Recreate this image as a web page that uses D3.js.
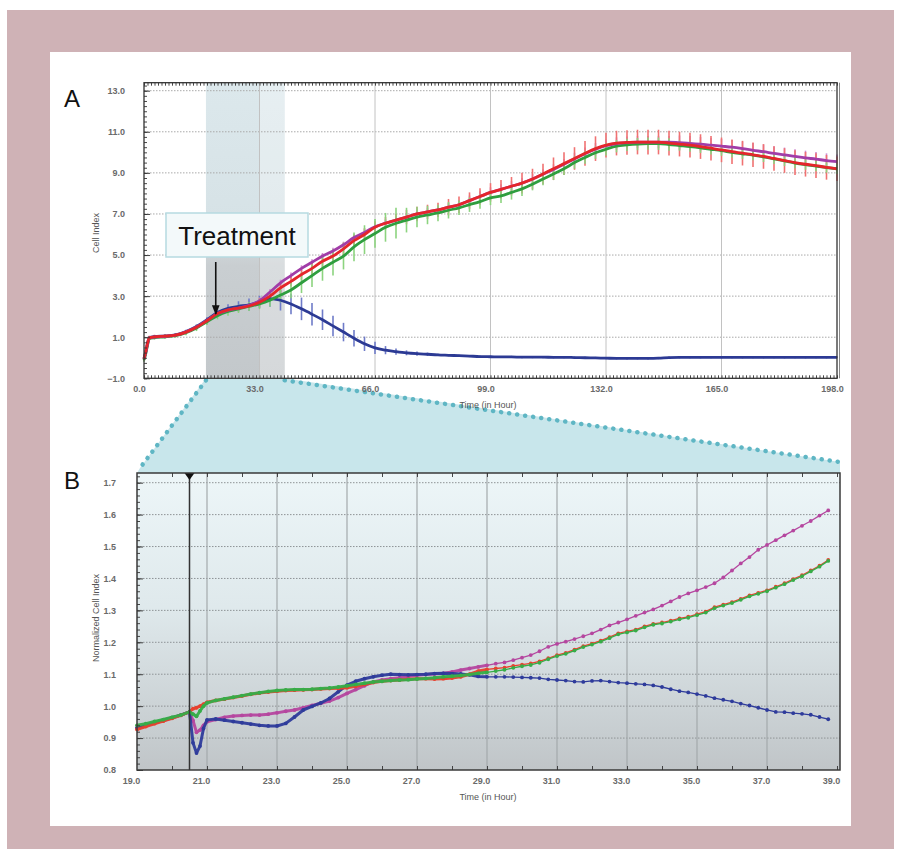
<!DOCTYPE html>
<html><head><meta charset="utf-8">
<script src="https://cdn.jsdelivr.net/npm/d3@7"></script>
<style>html,body{margin:0;padding:0;background:#fff;} svg{display:block;}</style>
</head><body>
<svg id="c" width="898" height="857"></svg>
<script>
// ---------------- DATA: Panel A (Cell Index vs time, hours) ----------------
const timesA = [0,0.5,1,1.5,3,6,9,12,15,18,21,24,27,30,33,36,39,42,45,48,51,54,57,60,63,66,69,72,75,78,81,84,87,90,93,96,99,102,105,108,111,114,117,120,123,126,129,132,135,138,141,144,147,150,153,156,159,162,165,168,171,174,177,180,183,186,189,192,195,198];
const redA = [-0.05,0.3,0.7,0.97, 1.02,1.05,1.1,1.25,1.48,1.8,2.15,2.33,2.42,2.52, 2.7,3.0,3.4,3.72,4.05,4.35,4.7,4.95,5.3,5.7, 6.0,6.35,6.55,6.7,6.85,7.0,7.1,7.2,7.33,7.45, 7.65,7.85,8.05,8.2,8.35,8.5,8.7,8.95,9.2,9.45, 9.7,9.95,10.18,10.35,10.45,10.48,10.5,10.5,10.5,10.45, 10.4,10.35,10.28,10.2,10.12,10.03,9.96,9.88,9.8,9.7, 9.6,9.5,9.42,9.35,9.27,9.2];
const greenA = [-0.1,0.2,0.6,0.93, 0.98,1.02,1.08,1.22,1.45,1.75,2.05,2.25,2.38,2.5, 2.62,2.8,3.05,3.3,3.65,4.0,4.35,4.65,4.95,5.4, 5.75,6.05,6.35,6.55,6.7,6.85,6.95,7.05,7.18,7.3, 7.45,7.6,7.78,7.88,8.05,8.22,8.45,8.7,8.95,9.2, 9.5,9.75,9.98,10.15,10.3,10.36,10.4,10.42,10.42,10.38, 10.33,10.28,10.22,10.15,10.08,10.0,9.93,9.86,9.78,9.68, 9.58,9.48,9.4,9.33,9.26,9.2];
const magentaA = [-0.05,0.25,0.65,0.95, 1.0,1.04,1.1,1.26,1.5,1.82,2.15,2.32,2.42,2.55, 2.78,3.2,3.65,4.0,4.35,4.65,4.95,5.2,5.5,5.85, 6.1,6.38,6.55,6.7,6.85,7.0,7.1,7.2,7.33,7.45, 7.65,7.85,8.05,8.2,8.35,8.5,8.7,8.93,9.17,9.42, 9.68,9.93,10.15,10.32,10.43,10.47,10.5,10.5,10.5,10.5, 10.47,10.44,10.4,10.35,10.3,10.25,10.18,10.1,10.03,9.95, 9.88,9.8,9.73,9.67,9.6,9.55];
const blueA = [-0.05,0.3,0.7,0.98, 1.03,1.06,1.12,1.28,1.52,1.85,2.2,2.4,2.5,2.58, 2.72,2.88,2.8,2.62,2.38,2.12,1.85,1.55,1.25,0.95, 0.68,0.48,0.37,0.3,0.24,0.2,0.17,0.14,0.12,0.1, 0.08,0.06,0.05,0.04,0.04,0.03,0.03,0.03,0.02,0.02, 0.01,0.0,-0.01,-0.02,-0.03,-0.03,-0.03,-0.03,-0.02,0.01, 0.02,0.02,0.02,0.02,0.02,0.02,0.02,0.02,0.02,0.02, 0.02,0.02,0.02,0.02,0.02,0.02];
// error bars (±)
const redErrA = [0.1,0.1,0.1,0.1, 0.1,0.1,0.1,0.1,0.12,0.12,0.15,0.15,0.15,0.15, 0.2,0.2,0.25,0.25,0.25,0.3,0.3,0.3,0.3,0.3, 0.3,0.3,0.3,0.3,0.35,0.35,0.35,0.35,0.4,0.4, 0.4,0.4,0.45,0.45,0.45,0.5,0.5,0.5,0.55,0.55, 0.55,0.6,0.6,0.6,0.6,0.6,0.6,0.6,0.6,0.6, 0.6,0.6,0.6,0.6,0.6,0.6,0.6,0.6,0.6,0.6, 0.6,0.6,0.6,0.6,0.6,0.6];
const greenErrA = [0.1,0.1,0.1,0.1, 0.1,0.1,0.1,0.12,0.15,0.15,0.18,0.2,0.2,0.22, 0.25,0.3,0.35,0.4,0.5,0.55,0.6,0.65,0.65,0.7, 0.7,0.7,0.7,0.75,0.6,0.5,0.45,0.4,0.4,0.35, 0.35,0.35,0.35,0.35,0.35,0.35,0.3,0.3,0.3,0.3, 0.3,0.3,0.3,0.3,0.3,0.3,0.3,0.3,0.3,0.3, 0.25,0.25,0.25,0.25,0.25,0.25,0.25,0.25,0.25,0.25, 0.25,0.25,0.25,0.25,0.25,0.25];
const magentaErrA = [0.05,0.05,0.05,0.05, 0.05,0.05,0.05,0.05,0.05,0.05,0.05,0.05,0.05,0.05, 0.15,0.15,0.15,0.15,0.15,0.15,0.15,0.15,0.15,0.15, 0.2,0.2,0.2,0.2,0.2,0.2,0.2,0.2,0.2,0.2, 0.25,0.25,0.25,0.25,0.25,0.25,0.25,0.25,0.25,0.25, 0.3,0.3,0.3,0.3,0.3,0.3,0.3,0.3,0.3,0.3, 0.35,0.35,0.35,0.35,0.35,0.35,0.35,0.35,0.35,0.35, 0.35,0.35,0.35,0.35,0.35,0.35];
const blueErrA = [0.05,0.05,0.05,0.05, 0.05,0.05,0.05,0.08,0.1,0.12,0.15,0.2,0.25,0.3, 0.3,0.4,0.5,0.5,0.55,0.55,0.5,0.5,0.45,0.4, 0.35,0.3,0.2,0.15,0.12,0.1,0.08,0.06,0.05,0.05, 0.05,0.05,0.05,0.05,0.05,0.05,0.05,0.05,0.05,0.05, 0.05,0.05,0.05,0.05,0.05,0.05,0.05,0.05,0.05,0.05, 0.05,0.05,0.05,0.05,0.05,0.05,0.05,0.05,0.05,0.05, 0.05,0.05,0.05,0.05,0.05,0.05];
const xTicksA = [0,33,66,99,132,165,198];
const yTicksA = [-1,1,3,5,7,9,11,13];
const treatmentTime = 20.5;
const zoomWindow = [17.7, 40.2];

// ---------------- DATA: Panel B (Normalized Cell Index) ----------------
const timesB = [19,19.25,19.5,19.75,20,20.25,20.5,20.6,20.7,20.8,20.9,21,21.25,21.5,21.75,22,22.25,22.5,22.75,23,23.25,23.5,23.75,24,24.25,24.5,24.75,25,25.25,25.5,25.75,26,26.25,26.5,26.75,27,27.25,27.5,27.75,28,28.25,28.5,28.75,29,29.25,29.5,29.75,30,30.25,30.5,30.75,31,31.25,31.5,31.75,32,32.25,32.5,32.75,33,33.25,33.5,33.75,34,34.25,34.5,34.75,35,35.25,35.5,35.75,36,36.25,36.5,36.75,37,37.25,37.5,37.75,38,38.25,38.5,38.75];
const redB = [0.927,0.936,0.945,0.953,0.962,0.971,0.982, 0.992,0.995,1.0,1.006,1.012, 1.018,1.022,1.027,1.032,1.037,1.041,1.044,1.047,1.049,1.05, 1.051,1.052,1.054,1.055,1.056,1.058,1.062,1.068,1.074,1.078, 1.08,1.082,1.084,1.086,1.086,1.085,1.086,1.088,1.092,1.1, 1.11,1.115,1.118,1.121,1.126,1.13,1.134,1.14, 1.15,1.16,1.167,1.177,1.188,1.196,1.205,1.216,1.228,1.234, 1.24,1.25,1.258,1.262,1.268,1.275,1.28,1.288,1.296,1.31, 1.318,1.326,1.336,1.347,1.355,1.363,1.374,1.385,1.398,1.41, 1.425,1.44,1.458];
const greenB = [0.940,0.945,0.952,0.958,0.965,0.972,0.982, 0.975,0.968,0.985,1.0,1.01, 1.018,1.023,1.028,1.033,1.038,1.042,1.046,1.049,1.051,1.052, 1.052,1.053,1.055,1.057,1.06,1.064,1.068,1.072,1.076,1.078, 1.08,1.082,1.083,1.085,1.087,1.089,1.092,1.094,1.096,1.099, 1.103,1.106,1.11,1.114,1.12,1.125,1.129,1.136, 1.147,1.157,1.164,1.174,1.185,1.193,1.202,1.213,1.225,1.231, 1.237,1.247,1.255,1.259,1.265,1.272,1.277,1.285,1.293,1.307, 1.315,1.323,1.333,1.344,1.352,1.36,1.371,1.382,1.395,1.407, 1.422,1.437,1.455];
const magentaB = [0.930,0.938,0.947,0.955,0.963,0.972,0.982, 0.955,0.918,0.925,0.94,0.951, 0.958,0.965,0.969,0.971,0.972,0.972,0.975,0.979,0.984,0.988, 0.995,1.002,1.009,1.016,1.027,1.04,1.052,1.064,1.076,1.082, 1.086,1.089,1.093,1.097,1.099,1.101,1.103,1.107,1.113,1.118, 1.123,1.128,1.133,1.137,1.144,1.152,1.16,1.172, 1.186,1.195,1.202,1.21,1.219,1.228,1.24,1.253,1.262,1.272, 1.283,1.293,1.303,1.315,1.328,1.342,1.353,1.363,1.373,1.385, 1.403,1.425,1.447,1.467,1.49,1.505,1.52,1.535,1.55,1.565, 1.58,1.597,1.613];
const blueB = [0.932,0.940,0.948,0.956,0.964,0.972,0.982, 0.885,0.853,0.875,0.93,0.957, 0.96,0.956,0.952,0.948,0.944,0.94,0.938,0.938,0.946,0.966, 0.988,0.999,1.01,1.024,1.045,1.066,1.078,1.086,1.092,1.097, 1.1,1.099,1.098,1.099,1.1,1.102,1.103,1.102,1.101,1.098, 1.093,1.092,1.092,1.092,1.091,1.09,1.089,1.088, 1.084,1.082,1.08,1.077,1.076,1.079,1.08,1.077,1.074,1.072, 1.07,1.068,1.065,1.06,1.053,1.047,1.043,1.038,1.032,1.025, 1.02,1.015,1.008,1.002,0.995,0.988,0.982,0.981,0.978,0.976, 0.973,0.966,0.959];
const xTicksB = [19,21,23,25,27,29,31,33,35,37,39];
const yTicksB = [0.8,0.9,1.0,1.1,1.2,1.3,1.4,1.5,1.6,1.7];

// ---------------- DRAWING ----------------
const FONT = "'Liberation Sans', Arial, Helvetica, sans-serif";
const svg = d3.select('#c');
const defs = svg.append('defs');

svg.append('rect').attr('x',7).attr('y',10).attr('width',887).attr('height',839).attr('fill','#cfb2b6');
svg.append('rect').attr('x',50).attr('y',52).attr('width',801).attr('height',774).attr('fill','#ffffff');

// scales
const xA = d3.scaleLinear().domain([0,198]).range([144,837]);
const yA = d3.scaleLinear().domain([-1,13]).range([378.3,90.7]);
const aL = 144, aR = 837, aT = 82.7, aB = 378.3;
const xB = d3.scaleLinear().domain([19,39]).range([137,837]);
const yB = d3.scaleLinear().domain([0.8,1.7]).range([770,482.7]);
const bL = 137, bR = 840, bT = 473, bB = 770;

// zoom trapezoid
const zx0 = xA(zoomWindow[0]), zx1 = xA(zoomWindow[1]);
svg.append('polygon')
  .attr('points', [[zx0,aB],[zx1,aB],[bR,462],[bR,bT],[bL,bT],[140,468]].map(p=>p.join(',')).join(' '))
  .attr('fill','#c8e6eb');
[[[zx0,aB+2],[140,468]],[[zx1,aB+2],[bR,462]]].forEach(seg=>{
  svg.append('line').attr('x1',seg[0][0]).attr('y1',seg[0][1]).attr('x2',seg[1][0]).attr('y2',seg[1][1])
    .attr('stroke','#5fb6c4').attr('stroke-width',4.5).attr('stroke-dasharray','0.1,8').attr('stroke-linecap','round');
});

// ===== Panel A =====
const gA = svg.append('g');
const bandGrad = defs.append('linearGradient').attr('id','bandG').attr('x1',0).attr('y1',0).attr('x2',0).attr('y2',1);
[['0%','#dce8ec'],['48%','#d6e2e6'],['62%','#c9ced1'],['100%','#c3c8cb']].forEach(s=>bandGrad.append('stop').attr('offset',s[0]).attr('stop-color',s[1]));
gA.append('rect').attr('x',zx0).attr('y',aT).attr('width',zx1-zx0).attr('height',aB-aT).attr('fill','url(#bandG)');
gA.append('rect').attr('x',xA(33)).attr('y',aT).attr('width',zx1-xA(33)).attr('height',aB-aT).attr('fill','#ffffff').attr('opacity',0.3);

// grid
gA.selectAll('.hg').data(yTicksA.filter(d=>d>-1)).enter().append('line')
  .attr('x1',aL).attr('x2',aR).attr('y1',d=>yA(d)).attr('y2',d=>yA(d))
  .attr('stroke','#a9a9a9').attr('stroke-width',1).attr('stroke-dasharray','1.5,1.5');
gA.selectAll('.vg').data(xTicksA.filter(d=>d>0&&d<198)).enter().append('line')
  .attr('y1',aT).attr('y2',aB).attr('x1',d=>xA(d)).attr('x2',d=>xA(d))
  .attr('stroke','#c2c2c2').attr('stroke-width',1);

// series A
const seriesA = [
  {values:blueA, err:blueErrA, color:'#2c3a94', errColor:'#6e7bc8'},
  {values:magentaA, err:magentaErrA, color:'#a13da8', errColor:'#d08bd0'},
  {values:redA, err:redErrA, color:'#e5262b', errColor:'#f07272'},
  {values:greenA, err:greenErrA, color:'#2f9e3f', errColor:'#8cd47f'}
];
seriesA.forEach(s=>{
  gA.append('g').selectAll('line').data(timesA.map((t,i)=>({t,v:s.values[i],e:s.err[i]}))).enter().append('line')
    .attr('x1',d=>xA(d.t)).attr('x2',d=>xA(d.t))
    .attr('y1',d=>yA(d.v-d.e)).attr('y2',d=>yA(d.v+d.e))
    .attr('stroke',s.errColor).attr('stroke-width',1.6);
});
const lineA = d3.line().x(d=>xA(d.t)).y(d=>yA(d.v)).curve(d3.curveMonotoneX);
['blue','green','magenta','red'].forEach(n=>{
  const s = {blue:seriesA[0],magenta:seriesA[1],red:seriesA[2],green:seriesA[3]}[n];
  gA.append('path').datum(timesA.map((t,i)=>({t,v:s.values[i]})))
    .attr('d',lineA).attr('fill','none').attr('stroke',s.color).attr('stroke-width',2.8).attr('stroke-linejoin','round');
});

// frame + ticks A
gA.append('rect').attr('x',aL).attr('y',aT).attr('width',aR-aL).attr('height',aB-aT).attr('fill','none').attr('stroke','#333').attr('stroke-width',1.3);
gA.append('line').attr('x1',aR+2.5).attr('x2',aR+2.5).attr('y1',aT).attr('y2',aB).attr('stroke','#888').attr('stroke-width',1);
const styleTicks = g => { g.select('.domain').remove(); g.selectAll('line').attr('stroke','#333').attr('stroke-width',0.9); };
gA.append('g').attr('transform',`translate(${aL},0)`).call(d3.axisRight(yA).tickValues(d3.range(-1,13.39,0.25)).tickSize(3).tickFormat('')).call(styleTicks);
gA.append('g').attr('transform',`translate(${aL},0)`).call(d3.axisRight(yA).tickValues(yTicksA).tickSize(6).tickFormat('')).call(styleTicks);
gA.append('g').attr('transform',`translate(0,${aB})`).call(d3.axisTop(xA).tickValues(d3.range(0,198.1,1)).tickSize(3).tickFormat('')).call(styleTicks);
gA.append('g').attr('transform',`translate(0,${aT})`).call(d3.axisBottom(xA).tickValues(d3.range(0,198.1,1)).tickSize(3).tickFormat('')).call(styleTicks);

// labels A
const labelStyle = g => { g.select('.domain').remove(); g.selectAll('line').remove();
  g.selectAll('text').attr('font-family',FONT).attr('font-size',9).attr('font-weight','bold').attr('fill','#6a6a6a'); };
gA.append('g').attr('transform',`translate(${aL},0)`).call(d3.axisLeft(yA).tickValues(yTicksA).tickSize(0).tickPadding(19).tickFormat(d3.format('.1f'))).call(labelStyle);
gA.append('g').attr('transform',`translate(0,${aB})`).call(d3.axisBottom(xA).tickValues(xTicksA).tickSize(0).tickPadding(7).tickFormat(d3.format('.1f'))).call(labelStyle)
  .selectAll('text').attr('dx',-5);
gA.append('text').attr('transform','translate(97,233) rotate(-90)').attr('text-anchor','middle').attr('dominant-baseline','middle')
  .attr('font-family',FONT).attr('font-size',9).attr('fill','#555').text('Cell Index');
gA.append('text').attr('x',488).attr('y',408).attr('text-anchor','middle')
  .attr('font-family',FONT).attr('font-size',9).attr('fill','#555').text('Time (in Hour)');
svg.append('text').attr('x',64).attr('y',107).attr('font-family',FONT).attr('font-size',24).attr('fill','#111').text('A');

// treatment annotation
gA.append('rect').attr('x',166).attr('y',213).attr('width',142).attr('height',44).attr('fill','#f3f9fa').attr('stroke','#b6dae1').attr('stroke-width',1.5);
gA.append('text').attr('x',237).attr('y',245).attr('text-anchor','middle').attr('font-family',FONT).attr('font-size',26).attr('fill','#111').text('Treatment');
defs.append('marker').attr('id','arr').attr('viewBox','0 0 10 10').attr('refX',9).attr('refY',5).attr('markerWidth',6).attr('markerHeight',6).attr('orient','auto')
  .append('path').attr('d','M0,1 L10,5 L0,9 Z').attr('fill','#111');
gA.append('line').attr('x1',xA(treatmentTime)).attr('x2',xA(treatmentTime)).attr('y1',262).attr('y2',314)
  .attr('stroke','#111').attr('stroke-width',1.6).attr('marker-end','url(#arr)');

// ===== Panel B =====
const gB = svg.append('g');
const bgGrad = defs.append('linearGradient').attr('id','bgB').attr('x1',0).attr('y1',0).attr('x2',0).attr('y2',1);
[['0%','#edf6f8'],['45%','#dfe9ec'],['100%','#c0c5c8']].forEach(s=>bgGrad.append('stop').attr('offset',s[0]).attr('stop-color',s[1]));
gB.append('rect').attr('x',bL).attr('y',bT).attr('width',bR-bL).attr('height',bB-bT).attr('fill','url(#bgB)');

gB.selectAll('.hg').data(yTicksB.filter(d=>d>0.85)).enter().append('line')
  .attr('x1',bL).attr('x2',bR).attr('y1',d=>yB(d)).attr('y2',d=>yB(d))
  .attr('stroke','#8e9396').attr('stroke-width',1).attr('stroke-dasharray','1.5,1.5');
gB.selectAll('.vg').data(xTicksB.filter(d=>d>19&&d<39)).enter().append('line')
  .attr('y1',bT).attr('y2',bB).attr('x1',d=>xB(d)).attr('x2',d=>xB(d))
  .attr('stroke','#a3a9ac').attr('stroke-width',1.2);

const seriesB = [
  {values:magentaB, color:'#b5469f'},
  {values:blueB, color:'#2e3b9b'},
  {values:redB, color:'#e8412e'},
  {values:greenB, color:'#36ad48'}
];
const lineB = d3.line().x(d=>xB(d.t)).y(d=>yB(d.v));
seriesB.forEach(s=>{
  const pts = timesB.map((t,i)=>({t,v:s.values[i]}));
  gB.append('path').datum(pts.filter(d=>d.t<=29)).attr('d',lineB).attr('fill','none').attr('stroke',s.color).attr('stroke-width',3).attr('stroke-linejoin','round').attr('opacity',0.95);
  gB.append('path').datum(pts.filter(d=>d.t>=29)).attr('d',lineB).attr('fill','none').attr('stroke',s.color).attr('stroke-width',1.3);
  gB.append('g').selectAll('circle').data(pts).enter().append('circle')
    .attr('cx',d=>xB(d.t)).attr('cy',d=>yB(d.v)).attr('r',1.9).attr('fill',s.color);
});

// treatment line B
gB.append('line').attr('x1',xB(treatmentTime)).attr('x2',xB(treatmentTime)).attr('y1',bT).attr('y2',bB).attr('stroke','#333').attr('stroke-width',1.5);
gB.append('path').attr('d',`M${xB(treatmentTime)-5},${bT} L${xB(treatmentTime)+5},${bT} L${xB(treatmentTime)},${bT+7} Z`).attr('fill','#111');

// frame + ticks B
gB.append('rect').attr('x',bL).attr('y',bT).attr('width',bR-bL).attr('height',bB-bT).attr('fill','none').attr('stroke','#3a3a3a').attr('stroke-width',1.5);
gB.append('g').attr('transform',`translate(${bL},0)`).call(d3.axisRight(yB).tickValues(d3.range(0.8,1.725,0.02)).tickSize(3).tickFormat('')).call(styleTicks);
gB.append('g').attr('transform',`translate(${bL},0)`).call(d3.axisRight(yB).tickValues(yTicksB).tickSize(6).tickFormat('')).call(styleTicks);
gB.append('g').attr('transform',`translate(0,${bB})`).call(d3.axisTop(xB).tickValues(d3.range(20,39.1,1)).tickSize(4).tickFormat('')).call(styleTicks);
gB.append('g').attr('transform',`translate(0,${bT})`).call(d3.axisBottom(xB).tickValues(d3.range(20,39.1,1)).tickSize(4).tickFormat('')).call(styleTicks);

gB.append('g').attr('transform',`translate(${bL},0)`).call(d3.axisLeft(yB).tickValues(yTicksB).tickSize(0).tickPadding(21).tickFormat(d3.format('.1f'))).call(labelStyle);
gB.append('g').attr('transform',`translate(0,${bB})`).call(d3.axisBottom(xB).tickValues(xTicksB).tickSize(0).tickPadding(8).tickFormat(d3.format('.1f'))).call(labelStyle)
  .selectAll('text').attr('dx',-6);
gB.append('text').attr('transform','translate(97,618) rotate(-90)').attr('text-anchor','middle').attr('dominant-baseline','middle')
  .attr('font-family',FONT).attr('font-size',9).attr('fill','#555').text('Normalized Cell Index');
gB.append('text').attr('x',488).attr('y',800).attr('text-anchor','middle')
  .attr('font-family',FONT).attr('font-size',9).attr('fill','#555').text('Time (in Hour)');
svg.append('text').attr('x',64).attr('y',489).attr('font-family',FONT).attr('font-size',24).attr('fill','#111').text('B');
</script></body></html>
